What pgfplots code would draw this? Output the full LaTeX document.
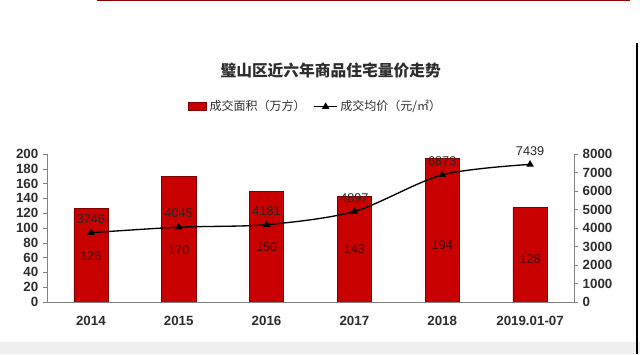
\documentclass[border=0pt]{standalone}
\usepackage{pgfplots}
\pgfplotsset{compat=1.18}
\usepackage{fontspec}
\setmainfont{Liberation Sans}
\newfontfamily\cjk{Noto Sans CJK SC}
\definecolor{barred}{RGB}{200,0,0}
\definecolor{baredge}{RGB}{130,0,0}
\definecolor{axgray}{RGB}{130,130,130}
\definecolor{txt}{RGB}{45,45,45}
\begin{document}
\begin{tikzpicture}
\path[use as bounding box] (0,0) rectangle (480pt,265.5pt);
% decorations of the screenshot
\fill[gray!12] (0,0) rectangle (480pt,9pt);
\draw[line width=1.2pt, red!55!black] (72.75pt,265pt) -- (472.5pt,265pt);
\draw[line width=1.5pt, black] (477.5pt,0) -- (477.5pt,233pt);
% title
\node[font=\cjk\bfseries\fontsize{11.8pt}{14pt}\selectfont, text=txt] at (248pt,213pt) {璧山区近六年商品住宅量价走势};

\begin{axis}[
  at={(35.25pt,39pt)}, anchor=south west,
  scale only axis, width=395.25pt, height=111pt,
  xmin=-0.5, xmax=5.5, ymin=0, ymax=200,
  ytick={0,20,...,200},
  xtick={0,1,2,3,4,5},
  xticklabels={2014,2015,2016,2017,2018,2019.01-07},
  major x tick style={draw=none},
  extra x ticks={0.5,1.5,2.5,3.5,4.5},
  extra x tick labels={},
  extra x tick style={tick style={axgray}},
  major tick length=3pt,
  axis x line*=bottom, axis y line*=left,
  axis line style={axgray, -},
  tick style={axgray},
  tick align=outside,
  ticklabel style={font=\bfseries\fontsize{10pt}{11pt}\selectfont, text=txt},
  /pgf/number format/assume math mode=true,
  xticklabel style={yshift=-4pt},
]
\addplot[ybar, bar width=0.39, fill=barred, draw=baredge] coordinates {
 (0,126) (1,170) (2,150) (3,143) (4,194) (5,128)};
\addplot[draw=none, mark=none,
  nodes near coords, point meta=explicit symbolic,
  every node near coord/.append style={anchor=center, font=\fontsize{9.5pt}{10pt}\selectfont, text=red!30!black}]
  table[meta=v] {
  x y v
  0 62 126
  1 70 170
  2 74 150
  3 72 143
  4 77 194
  5 58 128
};
\end{axis}

\begin{axis}[
  at={(35.25pt,39pt)}, anchor=south west,
  scale only axis, width=395.25pt, height=111pt,
  xmin=-0.5, xmax=5.5, ymin=0, ymax=8000,
  ytick={0,1000,...,8000},
  hide x axis,
  axis y line*=right,
  axis line style={axgray, -},
  tick style={axgray},
  major tick length=3pt,
  tick align=outside,
  ticklabel style={font=\bfseries\fontsize{10pt}{11pt}\selectfont, text=txt},
  /pgf/number format/assume math mode=true,
  /pgf/number format/1000 sep={},
  legend style={at={(0.51,1.32)}, anchor=center, draw=none, fill=none,
    font=\cjk\fontsize{9pt}{10pt}\selectfont, text=txt,
    /tikz/every even column/.append style={column sep=4pt}},
  legend columns=2,
]
\addlegendimage{area legend, fill=barred, draw=baredge,
  legend image code/.code={\draw[fill=barred, draw=baredge] (0pt,-3pt) rectangle (14pt,3pt);}}
\addlegendentry{成交面积（万方）}
\addplot[black, line width=1pt, smooth, mark=triangle*, mark size=2.2pt,
  mark options={fill=black},
  nodes near coords,
  every node near coord/.append style={anchor=south, yshift=3pt, font=\fontsize{9.5pt}{10pt}\selectfont, text=black!85}]
  coordinates {(0,3746) (1,4045) (2,4181) (3,4897) (4,6873) (5,7439)};
\addlegendentry{成交均价（元/㎡）}
\end{axis}
\end{tikzpicture}
\end{document}
